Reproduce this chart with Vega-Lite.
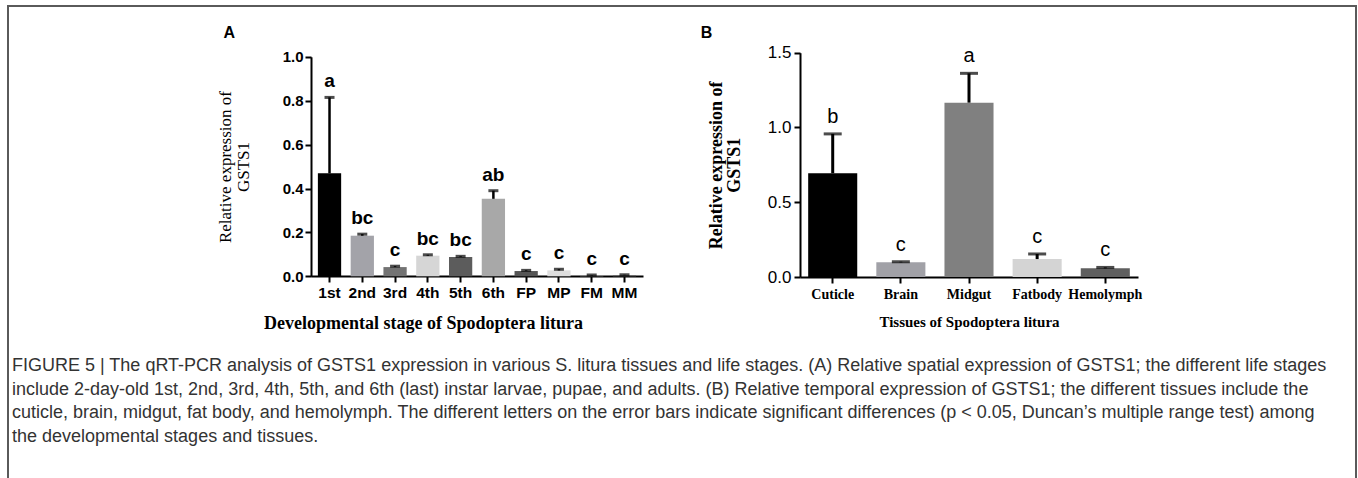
{
  "$schema": "https://vega.github.io/schema/vega-lite/v6.json",
  "width": 1348,
  "height": 474,
  "autosize": {"type": "none"},
  "padding": {"left": 8, "top": 6, "right": 2, "bottom": 0},
  "background": "white",
  "config": {
    "view": {"stroke": "#5a5a5a", "strokeWidth": 2},
    "axis": {"domainColor": "black", "domainWidth": 2, "tickColor": "black", "tickWidth": 2, "tickSize": 6, "grid": false, "labelColor": "black", "titleColor": "black"}
  },
  "title": {
    "text": [
      "FIGURE 5 | The qRT-PCR analysis of GSTS1 expression in various S. litura tissues and life stages. (A) Relative spatial expression of GSTS1; the different life stages",
      "include 2-day-old 1st, 2nd, 3rd, 4th, 5th, and 6th (last) instar larvae, pupae, and adults. (B) Relative temporal expression of GSTS1; the different tissues include the",
      "cuticle, brain, midgut, fat body, and hemolymph. The different letters on the error bars indicate significant differences (p < 0.05, Duncan’s multiple range test) among",
      "the developmental stages and tissues."
    ],
    "orient": "bottom",
    "anchor": "start",
    "frame": "group",
    "offset": -123,
    "dx": 4,
    "font": "Liberation Sans",
    "fontSize": 18,
    "fontWeight": "normal",
    "color": "#333333",
    "lineHeight": 23.5
  },
  "datasets": {
    "stages": [
      {"stage": "1st", "value": 0.469, "upper": 0.815, "letter": "a"},
      {"stage": "2nd", "value": 0.185, "upper": 0.192, "letter": "bc"},
      {"stage": "3rd", "value": 0.042, "upper": 0.046, "letter": "c"},
      {"stage": "4th", "value": 0.094, "upper": 0.098, "letter": "bc"},
      {"stage": "5th", "value": 0.088, "upper": 0.091, "letter": "bc"},
      {"stage": "6th", "value": 0.353, "upper": 0.39, "letter": "ab"},
      {"stage": "FP", "value": 0.024, "upper": 0.027, "letter": "c"},
      {"stage": "MP", "value": 0.027, "upper": 0.032, "letter": "c"},
      {"stage": "FM", "value": 0.004, "upper": 0.006, "letter": "c"},
      {"stage": "MM", "value": 0.005, "upper": 0.007, "letter": "c"}
    ],
    "tissues": [
      {"tissue": "Cuticle", "value": 0.694, "upper": 0.957, "letter": "b"},
      {"tissue": "Brain", "value": 0.098, "upper": 0.102, "letter": "c"},
      {"tissue": "Midgut", "value": 1.166, "upper": 1.362, "letter": "a"},
      {"tissue": "Fatbody", "value": 0.12, "upper": 0.154, "letter": "c"},
      {"tissue": "Hemolymph", "value": 0.058, "upper": 0.064, "letter": "c"}
    ]
  },
  "layer": [
    {
      "data": {"name": "stages"},
      "encoding": {
        "x": {
          "field": "stage", "type": "nominal",
          "sort": ["1st", "2nd", "3rd", "4th", "5th", "6th", "FP", "MP", "FM", "MM"],
          "scale": {"range": [303, 635], "paddingInner": 0.29, "paddingOuter": 0.21},
          "axis": {
            "title": "Developmental stage of Spodoptera litura",
            "orient": "bottom", "offset": -204, "labelAngle": 0,
            "labelFont": "Liberation Sans", "labelFontWeight": "bold", "labelFontSize": 15.5, "labelPadding": 3,
            "titleFont": "Liberation Serif", "titleFontWeight": "bold", "titleFontSize": 18, "titlePadding": 14, "titleX": 415
          }
        },
        "y": {
          "field": "value", "type": "quantitative",
          "scale": {"domain": [0, 1], "range": [270.3, 50.8], "nice": false},
          "axis": {
            "title": ["Relative expression of", "GSTS1"],
            "orient": "left", "offset": -303,
            "values": [0, 0.2, 0.4, 0.6, 0.8, 1.0], "format": ".1f",
            "labelFont": "Liberation Sans", "labelFontWeight": "bold", "labelFontSize": 15, "labelPadding": 2,
            "titleFont": "Liberation Serif", "titleFontWeight": "normal", "titleFontSize": 17, "titlePadding": 30, "titleLineHeight": 18
          }
        }
      },
      "layer": [
        {
          "mark": {"type": "bar"},
          "encoding": {
            "color": {
              "field": "stage", "type": "nominal", "legend": null,
              "scale": {
                "domain": ["1st", "2nd", "3rd", "4th", "5th", "6th", "FP", "MP", "FM", "MM"],
                "range": ["#000000", "#a3a3a9", "#737373", "#d6d6d6", "#5c5c5c", "#a8a8a8", "#555555", "#dedede", "#8a8a8a", "#666666"]
              }
            }
          }
        },
        {
          "mark": {"type": "rule", "color": "black", "strokeWidth": 2.5},
          "encoding": {"y2": {"field": "upper"}}
        },
        {
          "mark": {"type": "tick", "color": "black", "thickness": 3, "size": 10},
          "encoding": {"y": {"field": "upper", "type": "quantitative"}}
        },
        {
          "mark": {"type": "text", "font": "Liberation Sans", "fontWeight": "bold", "fontSize": 19, "baseline": "alphabetic", "dy": -10, "color": "black"},
          "encoding": {"y": {"field": "upper", "type": "quantitative"}, "text": {"field": "letter"}}
        },
        {
          "transform": [{"filter": "datum.stage === '1st'"}],
          "mark": {"type": "text", "text": "A", "font": "Liberation Sans", "fontWeight": "bold", "fontSize": 16, "align": "left", "baseline": "middle", "dx": -106, "dy": -24, "color": "black"},
          "encoding": {"y": {"datum": 1.0}}
        }
      ]
    },
    {
      "data": {"name": "tissues"},
      "encoding": {
        "x": {
          "field": "tissue", "type": "nominal",
          "sort": ["Cuticle", "Brain", "Midgut", "Fatbody", "Hemolymph"],
          "scale": {"range": [792, 1130], "paddingInner": 0.28, "paddingOuter": 0.12},
          "axis": {
            "title": "Tissues of Spodoptera litura",
            "orient": "bottom", "offset": -203, "labelAngle": 0,
            "labelFont": "Liberation Serif", "labelFontWeight": "bold", "labelFontSize": 14, "labelPadding": 4,
            "titleFont": "Liberation Serif", "titleFontWeight": "bold", "titleFontSize": 15, "titlePadding": 13
          }
        },
        "y": {
          "field": "value", "type": "quantitative",
          "scale": {"domain": [0, 1.5], "range": [271, 46.7], "nice": false},
          "axis": {
            "title": ["Relative expression of", "GSTS1"],
            "orient": "left", "offset": -792,
            "values": [0, 0.5, 1.0, 1.5], "format": ".1f",
            "labelFont": "Liberation Sans", "labelFontWeight": "normal", "labelFontSize": 17, "labelPadding": 3,
            "titleFont": "Liberation Serif", "titleFontWeight": "bold", "titleFontSize": 18, "titlePadding": 24, "titleLineHeight": 18
          }
        }
      },
      "layer": [
        {
          "mark": {"type": "bar"},
          "encoding": {
            "color": {
              "field": "tissue", "type": "nominal", "legend": null,
              "scale": {
                "domain": ["Cuticle", "Brain", "Midgut", "Fatbody", "Hemolymph"],
                "range": ["#000000", "#a1a1a7", "#808080", "#d4d4d4", "#5f5f5f"]
              }
            }
          }
        },
        {
          "mark": {"type": "rule", "color": "black", "strokeWidth": 3},
          "encoding": {"y2": {"field": "upper"}}
        },
        {
          "mark": {"type": "tick", "color": "black", "thickness": 3, "size": 18},
          "encoding": {"y": {"field": "upper", "type": "quantitative"}}
        },
        {
          "mark": {"type": "text", "font": "Liberation Sans", "fontWeight": "normal", "fontSize": 20, "baseline": "alphabetic", "dy": -11, "color": "black"},
          "encoding": {"y": {"field": "upper", "type": "quantitative"}, "text": {"field": "letter"}}
        },
        {
          "transform": [{"filter": "datum.tissue === 'Cuticle'"}],
          "mark": {"type": "text", "text": "B", "font": "Liberation Sans", "fontWeight": "bold", "fontSize": 16, "align": "left", "baseline": "middle", "dx": -132, "dy": -20, "color": "black"},
          "encoding": {"y": {"datum": 1.5}}
        }
      ]
    }
  ],
  "resolve": {"scale": {"x": "independent", "y": "independent", "color": "independent"}}
}
